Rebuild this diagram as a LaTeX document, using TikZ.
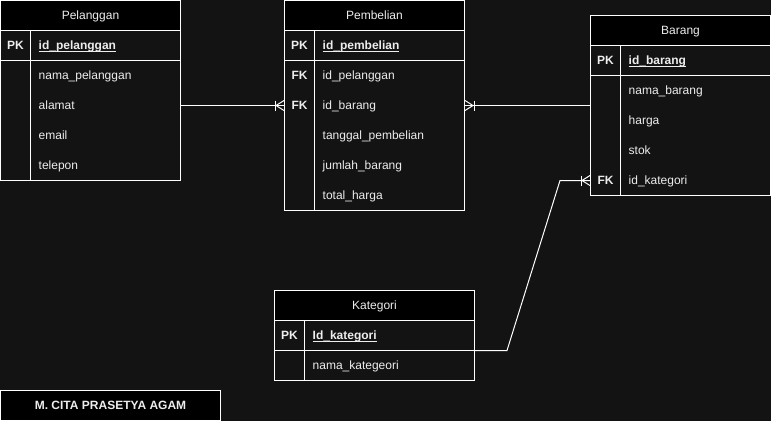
\documentclass[tikz,border=0pt]{standalone}
\usepackage{fontspec}
\setmainfont{Liberation Sans}
\usetikzlibrary{positioning}

\definecolor{canvas}{HTML}{131313}
\definecolor{ink}{HTML}{EDEDED}
\newcommand\erfont{\fontsize{12pt}{14pt}\selectfont}
\newcommand\keyname[1]{\setbox0\hbox{#1}\rlap{\rule[-1.8pt]{\wd0}{0.9pt}}\box0}

\tikzset{
  tabtitle/.style={draw=white, fill=black, line width=1pt, minimum height=30pt,
    inner sep=0pt, text=ink, font=\erfont, text height=10.86pt, text depth=2.54pt},
  tabbody/.style={draw=white, fill=canvas, line width=1pt, inner sep=0pt},
  keytext/.style={inner sep=0pt, text=ink, font=\erfont\bfseries, text height=10.86pt, text depth=2.54pt},
  fieldtext/.style={anchor=west, inner sep=0pt, text=ink, font=\erfont, text height=10.86pt, text depth=2.54pt},
  pkfield/.style={fieldtext, font=\erfont\bfseries},
  erline/.style={draw=white, line width=1pt},
}

\begin{document}
\begin{tikzpicture}[x=1pt,y=-1pt]
\fill[canvas] (0,0) rectangle (771,421);
\useasboundingbox (0,0) rectangle (771,421);

% Pelanggan
\node[tabbody, minimum width=180pt, minimum height=150pt] (pel_body) at (90.5,105.5) {};
\node[tabtitle, minimum width=180pt] (pel) at (90.5,15.5) {Pelanggan};
\draw[erline] (0.5,60.5) -- (180.5,60.5);
\draw[erline] (30.5,30.5) -- (30.5,180.5);
\node[keytext] (pel_pk) at (15.5,45.5) {PK};
\node[pkfield] (pel_id) at (38.5,45.5) {\keyname{id\_pelanggan}};
\node[fieldtext] (pel_nama) at (38.5,75.5) {nama\_pelanggan};
\node[fieldtext] (pel_alamat) at (38.5,105.5) {alamat};
\node[fieldtext] (pel_email) at (38.5,135.5) {email};
\node[fieldtext] (pel_telp) at (38.5,165.5) {telepon};

% Pembelian
\node[tabbody, minimum width=180pt, minimum height=180pt] (pem_body) at (374.5,120.5) {};
\node[tabtitle, minimum width=180pt] (pem) at (374.5,15.5) {Pembelian};
\draw[erline] (284.5,60.5) -- (464.5,60.5);
\draw[erline] (314.5,30.5) -- (314.5,210.5);
\node[keytext] (pem_pk) at (299.5,45.5) {PK};
\node[keytext] (pem_fk1) at (299.5,75.5) {FK};
\node[keytext] (pem_fk2) at (299.5,105.5) {FK};
\node[pkfield] (pem_id) at (322.5,45.5) {\keyname{id\_pembelian}};
\node[fieldtext] (pem_idpel) at (322.5,75.5) {id\_pelanggan};
\node[fieldtext] (pem_idbarang) at (322.5,105.5) {id\_barang};
\node[fieldtext] (pem_tgl) at (322.5,135.5) {tanggal\_pembelian};
\node[fieldtext] (pem_jumlah) at (322.5,165.5) {jumlah\_barang};
\node[fieldtext] (pem_total) at (322.5,195.5) {total\_harga};

% Barang
\node[tabbody, minimum width=180pt, minimum height=150pt] (bar_body) at (680.5,120.5) {};
\node[tabtitle, minimum width=180pt] (bar) at (680.5,30.5) {Barang};
\draw[erline] (590.5,75.5) -- (770.5,75.5);
\draw[erline] (620.5,45.5) -- (620.5,195.5);
\node[keytext] (bar_pk) at (605.5,60.5) {PK};
\node[keytext] (bar_fk) at (605.5,180.5) {FK};
\node[pkfield] (bar_id) at (628.5,60.5) {\keyname{id\_barang}};
\node[fieldtext] (bar_nama) at (628.5,90.5) {nama\_barang};
\node[fieldtext] (bar_harga) at (628.5,120.5) {harga};
\node[fieldtext] (bar_stok) at (628.5,150.5) {stok};
\node[fieldtext] (bar_idkat) at (628.5,180.5) {id\_kategori};

% Kategori
\node[tabbody, minimum width=200pt, minimum height=60pt] (kat_body) at (374.5,350.5) {};
\node[tabtitle, minimum width=200pt] (kat) at (374.5,305.5) {Kategori};
\draw[erline] (274.5,350.5) -- (474.5,350.5);
\draw[erline] (304.5,320.5) -- (304.5,380.5);
\node[keytext] (kat_pk) at (289.5,335.5) {PK};
\node[pkfield] (kat_id) at (312.5,335.5) {\keyname{Id\_kategori}};
\node[fieldtext] (kat_nama) at (312.5,365.5) {nama\_kategeori};

% nama
\node[tabtitle, minimum width=220pt, font=\erfont\bfseries] (penulis) at (110.5,405.5) {M. CITA PRASETYA AGAM};

% relasi
\coordinate (pel_out) at (pel_body.east |- pel_alamat);
\coordinate (pem_in) at (pem_body.west |- pem_idbarang);
\coordinate (pem_out) at (pem_body.east |- pem_idbarang);
\coordinate (bar_in) at (bar_body.west |- bar_idkat);
\coordinate (kat_bend) at ([xshift=32pt]kat_body.east);
\coordinate (bar_bend) at ([xshift=-30pt]bar_in);

\draw[erline] (pel_out) -- (pem_in);
\draw[erline] ([xshift=-9pt,yshift=5pt]pem_in) -- ++(0,-10pt);
\draw[erline] ([yshift=5pt]pem_in) -- ([xshift=-8pt]pem_in) -- ([yshift=-5pt]pem_in);

\draw[erline] (pem_out) -- (pem_out -| bar_body.west);
\draw[erline] ([xshift=9pt,yshift=5pt]pem_out) -- ++(0,-10pt);
\draw[erline] ([yshift=5pt]pem_out) -- ([xshift=8pt]pem_out) -- ([yshift=-5pt]pem_out);

\draw[erline] (kat_body.east) -- (kat_bend) -- (bar_bend) -- (bar_in);
\draw[erline] ([xshift=-9pt,yshift=5pt]bar_in) -- ++(0,-10pt);
\draw[erline] ([yshift=5pt]bar_in) -- ([xshift=-8pt]bar_in) -- ([yshift=-5pt]bar_in);
\end{tikzpicture}
\end{document}
